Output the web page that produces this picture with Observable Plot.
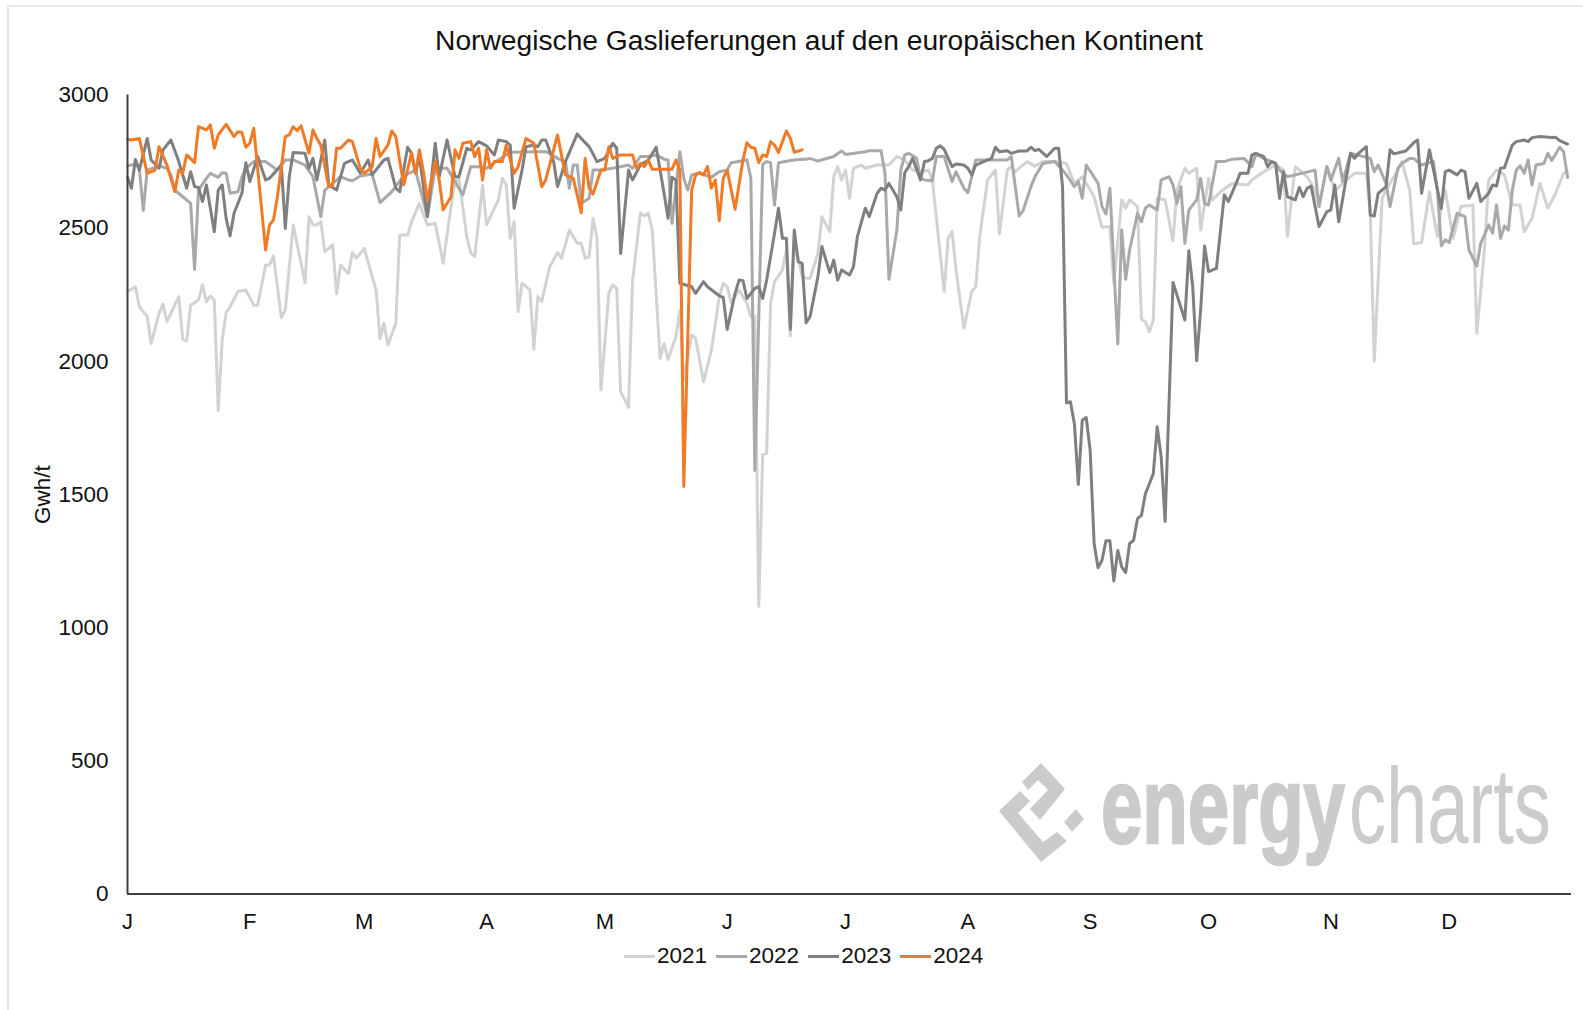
<!DOCTYPE html>
<html lang="de">
<head>
<meta charset="utf-8">
<script src="https://cdn.jsdelivr.net/npm/d3@7"></script>
<script src="https://cdn.jsdelivr.net/npm/@observablehq/plot@0.6"></script>
<style>
html,body{margin:0;padding:0;background:#fff;}
#page{position:relative;width:1583px;height:1010px;overflow:hidden;font-family:"Liberation Sans",Arial,sans-serif;color:#111;}
#frame{position:absolute;left:7px;top:5px;width:1590px;height:1020px;border:2px solid #e6e6e6;box-sizing:border-box;pointer-events:none;}
#title{height:70px;line-height:81px;font-size:28.2px;text-align:center;padding-left:55px;box-sizing:border-box;}
#chart svg{display:block;}
#legend{display:flex;align-items:center;height:30px;margin-left:624px;font-size:22.5px;margin-top:1px;}
#legend .sw{display:inline-block;width:31px;height:3px;margin-right:2px;}
#legend .it{display:flex;align-items:center;margin-right:9px;}
#mark{position:absolute;left:0;top:0;}
</style>
</head>
<body>
<div id="page">
  <div id="frame"></div>
  <div id="title"></div>
  <div id="chart"></div>
  <div id="legend"></div>
</div>
<script>
const chartTitle = "Norwegische Gaslieferungen auf den europäischen Kontinent";
const yLabel = "Gwh/t";
const monthLabels = ["J","F","M","A","M","J","J","A","S","O","N","D"];
const monthStarts = [0,31,60,91,121,152,182,213,244,274,305,335];
const valueTicks = [0,500,1000,1500,2000,2500,3000];
const years = ["2021","2022","2023","2024"];
const yearColors = ["#d2d2d2","#a9a9a9","#7f7f7f","#f07a25"];

// [day of year, GWh/d]
const s2021 = [[0,2262],[2,2280],[3,2205],[5,2168],[6,2067],[8,2180],[9,2215],[10,2149],[13,2243],[14,2083],[15,2077],[16,2211],[18,2230],[19,2287],[20,2224],[21,2245],[22,2230],[23,1815],[24,2080],[25,2183],[26,2205],[28,2262],[30,2268],[32,2211],[33,2211],[35,2362],[36,2362],[37,2395],[39,2164],[40,2193],[42,2512],[45,2295],[46,2543],[47,2512],[48,2512],[49,2524],[50,2412],[52,2437],[53,2253],[54,2362],[56,2330],[57,2408],[58,2387],[60,2424],[63,2268],[64,2086],[65,2143],[66,2061],[68,2143],[69,2474],[71,2474],[72,2524],[74,2593],[76,2512],[78,2518],[80,2368],[82,2581],[83,2675],[84,2687],[86,2468],[87,2406],[88,2393],[90,2662],[91,2512],[94,2606],[95,2687],[96,2662],[97,2462],[98,2524],[99,2186],[100,2293],[102,2268],[103,2045],[104,2243],[105,2224],[107,2355],[109,2408],[110,2387],[112,2493],[114,2443],[115,2443],[116,2387],[117,2393],[118,2537],[119,2462],[120,1892],[122,2255],[123,2287],[124,2274],[125,1886],[127,1827],[128,2299],[130,2558],[131,2546],[132,2556],[133,2493],[135,2011],[136,2067],[137,2007],[139,2092],[140,2193],[141,1930],[143,2099],[144,2086],[146,1923],[148,2042],[150,2243],[151,2293],[152,2280],[153,2220],[155,2268],[157,2218],[158,2168],[159,2168],[160,1080],[161,1650],[162,1655],[163,2218],[164,2299],[166,2343],[167,2418],[168,2095],[169,2450],[171,2320],[172,2312],[173,2312],[175,2406],[176,2543],[178,2487],[179,2693],[180,2731],[181,2681],[182,2718],[183,2612],[184,2725],[186,2737],[187,2725],[190,2737],[192,2737],[193,2737],[195,2769],[197,2756],[199,2718],[201,2712],[203,2718],[204,2681],[207,2262],[208,2462],[209,2487],[210,2343],[212,2124],[214,2262],[215,2280],[216,2468],[218,2681],[220,2718],[221,2478],[223,2718],[224,2731],[225,2712],[228,2750],[230,2733],[232,2750],[235,2750],[238,2743],[240,2668],[242,2693],[245,2618],[247,2503],[249,2506],[250,2293],[252,2606],[253,2575],[254,2606],[256,2581],[257,2158],[258,2149],[259,2111],[260,2155],[261,2612],[263,2606],[265,2453],[266,2643],[268,2725],[269,2706],[271,2725],[272,2493],[274,2687],[275,2606],[277,2637],[280,2668],[284,2662],[285,2681],[288,2712],[291,2737],[293,2718],[294,2468],[295,2606],[296,2731],[298,2706],[299,2693],[301,2643],[302,2581],[304,2733],[306,2640],[309,2681],[311,2706],[314,2706],[315,2556],[316,2000],[318,2612],[319,2643],[322,2718],[323,2750],[325,2643],[326,2441],[328,2446],[330,2637],[332,2468],[333,2581],[334,2643],[336,2462],[338,2581],[341,2587],[342,2105],[344,2430],[345,2681],[347,2718],[349,2700],[351,2587],[353,2587],[354,2487],[356,2537],[358,2668],[360,2575],[362,2631],[364,2706],[365,2712]];

const s2022 = [[0,2734],[2,2741],[3,2725],[4,2566],[5,2718],[7,2728],[8,2734],[10,2725],[11,2700],[12,2643],[14,2618],[16,2593],[17,2345],[18,2643],[20,2687],[21,2706],[23,2691],[24,2708],[25,2706],[26,2631],[28,2637],[29,2693],[30,2725],[32,2750],[35,2750],[38,2718],[40,2756],[42,2756],[45,2737],[47,2693],[49,2543],[50,2643],[52,2668],[54,2693],[56,2681],[57,2678],[59,2696],[62,2703],[64,2596],[67,2637],[70,2696],[73,2718],[76,2543],[78,2725],[81,2725],[85,2625],[87,2731],[89,2731],[91,2725],[94,2756],[97,2785],[103,2787],[106,2787],[107,2781],[109,2762],[111,2750],[112,2650],[113,2737],[114,2737],[115,2593],[117,2612],[118,2718],[120,2718],[124,2728],[127,2737],[128,2725],[130,2769],[132,2769],[134,2775],[136,2759],[137,2756],[138,2518],[140,2787],[141,2687],[142,2643],[143,2700],[145,2706],[148,2691],[150,2712],[152,2718],[153,2746],[157,2756],[158,2687],[159,1590],[161,2740],[162,2750],[163,2746],[164,2587],[165,2746],[168,2754],[171,2759],[172,2759],[173,2762],[175,2752],[179,2769],[181,2790],[182,2777],[187,2787],[188,2791],[191,2791],[192,2706],[193,2308],[195,2493],[196,2718],[197,2775],[198,2781],[200,2762],[201,2687],[202,2681],[204,2678],[205,2769],[207,2769],[209,2675],[210,2712],[212,2650],[213,2633],[215,2756],[218,2756],[223,2756],[224,2769],[226,2546],[227,2566],[229,2656],[230,2693],[232,2743],[235,2750],[237,2718],[238,2700],[240,2656],[241,2675],[242,2612],[243,2737],[246,2668],[247,2581],[248,2553],[249,2650],[251,2065],[252,2493],[253,2308],[254,2418],[256,2556],[257,2524],[258,2575],[259,2587],[261,2568],[262,2681],[264,2693],[265,2662],[266,2593],[267,2656],[268,2443],[269,2568],[271,2606],[272,2687],[273,2593],[274,2587],[276,2750],[278,2750],[280,2759],[283,2762],[285,2731],[286,2779],[288,2762],[291,2743],[292,2718],[294,2693],[301,2718],[302,2581],[304,2731],[305,2681],[307,2762],[308,2675],[310,2781],[315,2762],[316,2712],[317,2737],[319,2668],[320,2581],[322,2725],[323,2743],[325,2762],[326,2762],[328,2737],[331,2750],[332,2643],[333,2433],[334,2456],[335,2446],[337,2556],[339,2543],[340,2418],[342,2358],[343,2443],[345,2512],[346,2481],[347,2587],[348,2462],[349,2508],[350,2493],[351,2643],[352,2718],[353,2734],[354,2706],[355,2756],[356,2662],[357,2737],[359,2743],[360,2781],[361,2754],[363,2804],[364,2787],[365,2690]];

const s2023 = [[0,2691],[1,2650],[2,2758],[3,2718],[5,2837],[6,2756],[8,2725],[9,2794],[11,2831],[13,2750],[15,2650],[16,2712],[17,2656],[18,2653],[19,2600],[20,2662],[22,2487],[23,2643],[24,2662],[25,2537],[26,2471],[27,2556],[29,2631],[30,2746],[31,2675],[33,2769],[35,2681],[36,2687],[39,2737],[40,2499],[41,2693],[42,2784],[45,2781],[46,2725],[47,2762],[48,2681],[50,2831],[51,2662],[53,2643],[55,2743],[57,2756],[59,2706],[61,2756],[62,2700],[65,2756],[66,2762],[68,2650],[69,2637],[71,2804],[72,2781],[73,2706],[74,2769],[76,2543],[78,2819],[79,2693],[81,2831],[83,2693],[84,2693],[86,2800],[87,2794],[89,2825],[91,2809],[93,2775],[94,2831],[96,2825],[97,2812],[98,2575],[100,2718],[101,2806],[103,2812],[104,2806],[105,2831],[106,2831],[108,2750],[109,2656],[111,2750],[113,2819],[114,2854],[116,2821],[117,2806],[119,2750],[121,2762],[123,2819],[124,2800],[125,2405],[127,2718],[128,2681],[130,2737],[132,2756],[134,2804],[136,2631],[137,2537],[138,2691],[139,2681],[140,2293],[143,2280],[144,2255],[146,2299],[147,2280],[150,2246],[151,2240],[152,2120],[154,2255],[155,2305],[156,2303],[157,2236],[159,2274],[160,2280],[161,2236],[162,2305],[164,2481],[165,2575],[166,2462],[167,2462],[168,2120],[169,2493],[170,2374],[171,2368],[172,2145],[173,2168],[175,2318],[176,2431],[178,2333],[179,2380],[180,2305],[181,2343],[183,2324],[184,2355],[185,2468],[187,2575],[188,2543],[190,2631],[191,2650],[192,2643],[193,2668],[195,2618],[196,2568],[197,2708],[198,2731],[199,2762],[201,2681],[202,2750],[203,2753],[204,2762],[205,2800],[206,2809],[207,2796],[209,2731],[210,2741],[212,2737],[213,2725],[214,2700],[215,2737],[218,2756],[219,2762],[220,2804],[221,2787],[223,2791],[224,2781],[226,2790],[228,2790],[229,2804],[230,2791],[231,2796],[233,2769],[235,2800],[236,2800],[237,2656],[238,1844],[239,1848],[240,1766],[241,1538],[242,1779],[243,1789],[244,1666],[245,1316],[246,1225],[247,1253],[248,1326],[249,1326],[250,1175],[251,1290],[252,1228],[253,1207],[254,1316],[255,1328],[256,1409],[257,1422],[258,1503],[260,1578],[261,1754],[262,1641],[263,1399],[265,2296],[268,2155],[269,2415],[270,2280],[271,2002],[272,2193],[273,2433],[274,2337],[276,2349],[278,2625],[279,2600],[281,2668],[282,2706],[284,2706],[285,2775],[286,2781],[288,2769],[289,2731],[290,2750],[291,2743],[292,2612],[293,2712],[294,2618],[296,2606],[297,2653],[298,2618],[299,2650],[300,2658],[302,2506],[304,2562],[305,2568],[306,2662],[307,2524],[310,2781],[311,2762],[312,2781],[314,2806],[315,2549],[316,2546],[317,2631],[319,2656],[320,2794],[321,2779],[324,2790],[326,2821],[327,2831],[328,2631],[330,2794],[333,2574],[334,2712],[335,2718],[337,2700],[338,2718],[339,2712],[340,2612],[342,2668],[343,2600],[345,2631],[346,2662],[347,2658],[348,2725],[349,2727],[351,2812],[352,2825],[354,2831],[355,2825],[356,2840],[358,2844],[361,2840],[362,2841],[363,2829],[365,2816]];

const s2024 = [[0,2834],[1,2831],[3,2837],[5,2706],[7,2718],[8,2806],[10,2737],[12,2637],[13,2718],[14,2706],[15,2775],[17,2746],[18,2881],[20,2869],[21,2888],[22,2800],[23,2850],[25,2890],[27,2844],[28,2862],[29,2859],[30,2804],[31,2819],[32,2875],[35,2418],[36,2512],[37,2531],[38,2618],[40,2844],[41,2850],[42,2881],[43,2866],[44,2884],[46,2781],[47,2869],[48,2837],[49,2812],[51,2656],[52,2662],[53,2800],[54,2800],[56,2831],[57,2825],[59,2725],[60,2706],[62,2729],[63,2837],[64,2769],[66,2812],[67,2865],[68,2844],[70,2662],[72,2781],[73,2706],[74,2794],[75,2712],[76,2606],[78,2750],[79,2681],[80,2568],[82,2618],[83,2794],[84,2762],[85,2819],[87,2825],[88,2769],[89,2800],[90,2681],[91,2794],[92,2725],[93,2750],[95,2750],[96,2812],[98,2706],[99,2731],[101,2837],[103,2819],[105,2656],[106,2681],[109,2850],[111,2700],[113,2687],[115,2558],[116,2762],[117,2650],[118,2628],[120,2718],[121,2718],[122,2806],[123,2762],[124,2769],[125,2775],[128,2775],[129,2725],[130,2743],[131,2731],[132,2756],[133,2721],[138,2721],[139,2756],[140,2718],[141,1530],[143,2643],[144,2700],[145,2709],[146,2700],[147,2731],[148,2650],[149,2681],[150,2528],[151,2687],[152,2718],[154,2571],[156,2756],[157,2821],[158,2804],[159,2800],[160,2746],[161,2775],[162,2769],[163,2825],[164,2812],[165,2784],[167,2865],[168,2837],[169,2785],[171,2794]];

const seriesByYear = [s2021,s2022,s2023,s2024];
const rows = seriesByYear.flatMap((s,i)=>s.map(([day,value])=>({day,value,year:years[i]})));

document.getElementById("title").textContent = chartTitle;

const plot = Plot.plot({
  width:1583, height:870,
  marginLeft:127, marginRight:12, marginTop:24.5, marginBottom:46.5,
  style:{fontFamily:'"Liberation Sans",Arial,sans-serif',fontSize:"22.5px",color:"#111",background:"#fff"},
  x:{domain:[0,366]},
  y:{domain:[0,3000]},
  color:{domain:years,range:yearColors},
  marks:[
    Plot.axisY({ticks:valueTicks,tickSize:0,tickPadding:19,tickFormat:d=>String(d),label:yLabel,labelAnchor:"center",labelArrow:"none",labelOffset:93,fontSize:22.5}),
    Plot.axisX({ticks:monthStarts,tickFormat:(d,i)=>monthLabels[i],tickSize:0,tickPadding:19,label:null,fontSize:22}),
    Plot.line(rows,{x:"day",y:"value",z:"year",stroke:"year",strokeWidth:3,strokeLinejoin:"round",strokeLinecap:"round",curve:"linear"}),
    Plot.ruleX([0],{stroke:"#404040",strokeWidth:2}),
    Plot.ruleY([0],{stroke:"#404040",strokeWidth:2})
  ]
});
document.getElementById("chart").appendChild(plot);

const legend = document.getElementById("legend");
years.forEach((y,i)=>{
  const it=document.createElement("span");it.className="it";
  const sw=document.createElement("span");sw.className="sw";sw.style.background=yearColors[i];
  const t=document.createElement("span");t.textContent=y;
  it.append(sw,t);legend.appendChild(it);
});

// watermark logo and wordmark
const NS="http://www.w3.org/2000/svg";
const mark=document.createElementNS(NS,"svg");
mark.setAttribute("id","mark");mark.setAttribute("width",1583);mark.setAttribute("height",1010);
document.getElementById("page").appendChild(mark);
const logoShapes=[
 "999,811 1020,791 1030,801 1018,813 1043,842 1057,832 1067,841 1041,862",
 "1041,763 1065,789 1040,820 1030,809 1048,790 1038,780 1028,790 1022,782",
 "1076,809 1084,819 1072,832 1064,822"
];
logoShapes.forEach(p=>{const e=document.createElementNS(NS,"polygon");e.setAttribute("points",p);e.setAttribute("fill","#cbcbcb");mark.appendChild(e);});
[["energy",1101,244,"700",2.5],["charts",1349,202,"400",0]].forEach(([t,x,w,fw,sk])=>{
  const e=document.createElementNS(NS,"text");
  e.textContent=t;
  e.setAttribute("font-family",'"Liberation Sans Narrow","Liberation Sans",sans-serif');
  e.setAttribute("font-size",108);e.setAttribute("font-weight",fw);e.setAttribute("fill","#cbcbcb");
  if(sk){e.setAttribute("stroke","#cbcbcb");e.setAttribute("stroke-width",sk);}
  mark.appendChild(e);
  const sx=w/e.getComputedTextLength();
  e.setAttribute("transform",`translate(${x},843) scale(${sx},1)`);
});
</script>
</body>
</html>
